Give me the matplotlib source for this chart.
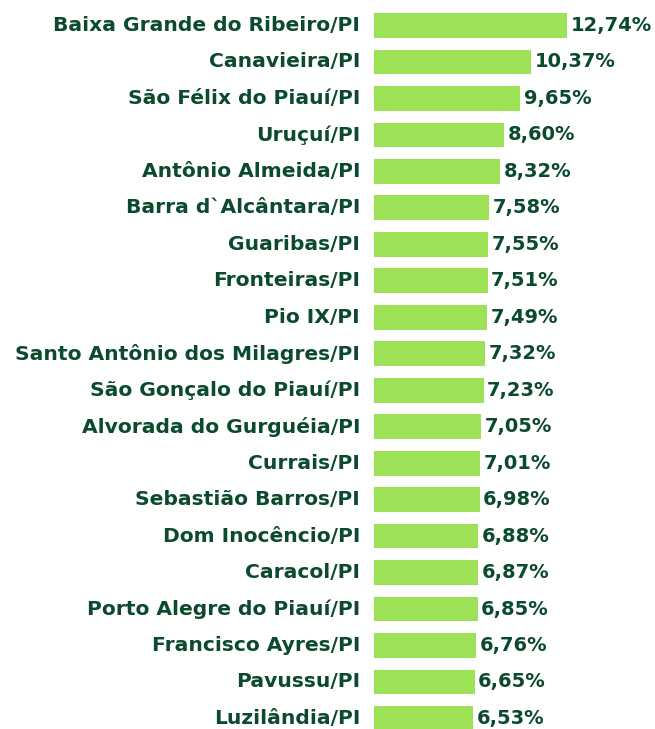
import matplotlib
matplotlib.use("Agg")
import matplotlib.pyplot as plt

cidades = ["Baixa Grande do Ribeiro/PI", "Canavieira/PI", "São Félix do Piauí/PI",
           "Uruçuí/PI", "Antônio Almeida/PI", "Barra d`Alcântara/PI", "Guaribas/PI",
           "Fronteiras/PI", "Pio IX/PI", "Santo Antônio dos Milagres/PI",
           "São Gonçalo do Piauí/PI", "Alvorada do Gurguéia/PI", "Currais/PI",
           "Sebastião Barros/PI", "Dom Inocêncio/PI", "Caracol/PI",
           "Porto Alegre do Piauí/PI", "Francisco Ayres/PI", "Pavussu/PI",
           "Luzilândia/PI"]
valores = [12.74, 10.37, 9.65, 8.60, 8.32, 7.58, 7.55, 7.51, 7.49, 7.32,
           7.23, 7.05, 7.01, 6.98, 6.88, 6.87, 6.85, 6.76, 6.65, 6.53]

verde_txt = "#0b4a2c"
verde_bar = "#9de256"

plt.rcParams['font.family'] = ['DejaVu Sans']

fig = plt.figure(figsize=(6.55, 7.29), dpi=100)
ax = fig.add_axes([374 / 655, 0, 281 / 655, 1])

pos = list(range(len(cidades)))
ax.barh(pos, valores, height=0.68, color=verde_bar)

for i, (c, v) in enumerate(zip(cidades, valores)):
    ax.annotate(c, (0, i), xytext=(-10, 0), textcoords="offset points",
                ha="right", va="center", fontsize=14.6, fontweight="bold",
                color=verde_txt, annotation_clip=False)
    ax.annotate(("%.2f%%" % v).replace(".", ","), (v, i), xytext=(2.5, 0),
                textcoords="offset points", ha="left", va="center",
                fontsize=14, fontweight="bold", color=verde_txt,
                annotation_clip=False)

ax.set_xlim(0, 281 / 15.15)
ax.set_ylim((729 - 25.5) / 36.47, -25.5 / 36.47)
ax.axis("off")

fig.savefig("out.png", dpi=100)
